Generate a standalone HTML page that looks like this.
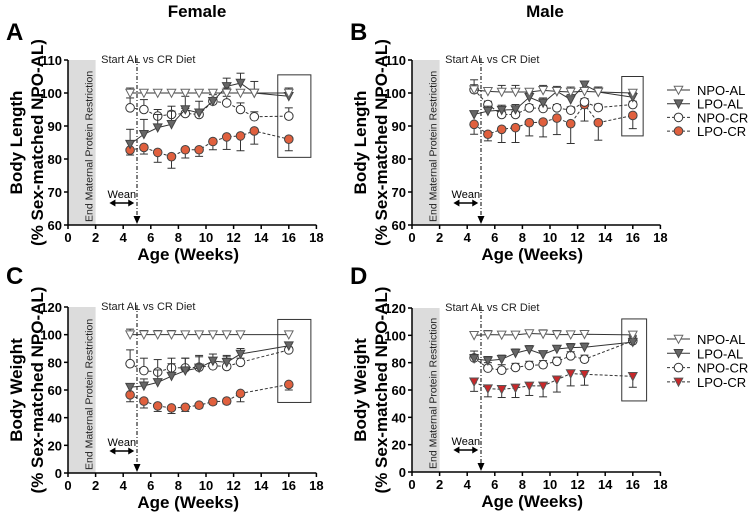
<!DOCTYPE html>
<html><head><meta charset="utf-8"><style>
body{margin:0;background:#fff}
svg{display:block;font-family:"Liberation Sans",Arial,sans-serif}
</style></head><body>
<svg id="fig" width="750" height="519" viewBox="0 0 750 519">
<text x="197" y="17" font-size="17" font-weight="bold" text-anchor="middle">Female</text>
<text x="545" y="17" font-size="17" font-weight="bold" text-anchor="middle">Male</text>
</svg>
<script>
const weeksA = [4.5,5.5,6.5,7.5,8.5,9.5,10.5,11.5,12.5,13.5,16];
const weeksC = [4.5,5.5,6.5,7.5,8.5,9.5,10.5,11.5,12.5,16];
const seriesNames = ["NPO-AL","LPO-AL","NPO-CR","LPO-CR"];
const xTicks = [0,2,4,6,8,10,12,14,16,18];
const yTicksLength = [60,70,80,90,100,110];
const yTicksWeight = [0,20,40,60,80,100,120];

const A_npoAL = [100,100,100,100,100,100,100,100,100,100,100];
const A_lpoAL = [84.5,87.5,89.5,90.5,95,94,97.5,102,103,100,99];
const A_npoCR = [95.5,95,93,93.5,93.8,93.5,97.5,97,95,92.8,93];
const A_lpoCR = [82.7,83.5,82,80.7,82.8,82.8,85.3,86.7,87,88.5,86];
const A_errAL = [1.5,1,1,1,1,1,1,1.5,1,1,1.5];
const A_errLAL = [4.5,4.5,4,4,4,3.5,2.5,2.5,3,3.5,2.5];
const A_errNCR = [3,3,2,2.5,1.5,1.5,2,2,2,1.5,2.5];
const A_errLCR = [1.5,2,3,3.5,2.5,2,2.5,3.8,4.5,4,3.5];

const B_npoAL = [101,100.5,100.3,100.3,100.3,100.8,100.5,100.3,100.5,100.3,100];
const B_lpoAL = [93.5,94.5,94.8,95,98.7,97,100.5,98,102.5,100.3,98.7];
const B_npoCR = [101,96.5,93.5,93.5,95.5,95.3,95.5,94.8,97.3,95.6,96.5];
const B_lpoCR = [90.5,87.5,89,89.5,91,91.2,92.4,90.7,96.5,91,93.2];
const B_errAL = [1.5,1,2,2,1,1.5,1,1.5,1,1.5,1];
const B_errLAL = [1,1.5,1.5,1.5,1.5,1.5,1.5,1.5,1,1.5,1.5];
const B_errNCR = [3,1,1,1,1,1,1,1,1,1,1];
const B_errLCR = [3,2,4,4.5,4,4.5,5,6,5,5.3,4];

const C_npoAL = [100,100,100,100,100,100,100,100,100,100];
const C_lpoAL = [62,63,65.5,70,74,76,81,80,86,92];
const C_npoCR = [79,74,73,76,76,76.5,77.5,77,80,89];
const C_lpoCR = [56.5,52,48.5,47,47.5,49,51.5,52,57.5,64];
const C_errAL = [4,3,3,3,2,1.5,2,2,2,2];
const C_errLAL = [2,5,9,9,9,8,5,5,4,2];
const C_errNCR = [10,9,9,7,7,8.5,6,7,3,2];
const C_errLCR = [5,5,4,4,3,2,2,2,6,4];

const D_npoAL = [100,100.5,100.3,100.3,101.3,101,100.5,100.5,100.8,100.3];
const D_lpoAL = [83,81.5,82.5,87,89.5,86,90,91,91.3,95];
const D_npoCR = [83.5,76,74.5,76.5,78,78.5,81,85,82.5,96];
const D_lpoCR = [66,61,60.5,61.5,63,63,67.5,72,71.5,70];
const D_errAL = [2,3,2,2,2,3,3,2,2,2];
const D_errLAL = [3,3,3,3,3,2,2,3,3,5];
const D_errNCR = [5,4,4,3,3,3,3,3,3,3];
const D_errLCR = [7,6,6,7,7,8,9,9,8,8];

const NS="http://www.w3.org/2000/svg";
const svg=document.getElementById('fig');
function el(tag,attrs,parent,text){const e=document.createElementNS(NS,tag);for(const k in attrs)e.setAttribute(k,attrs[k]);if(text!==undefined)e.textContent=text;(parent||svg).appendChild(e);return e;}

const panels=[
 {id:"a",letter:"A",lx:6,ly:40,x0:68,y0:60,y1:225,ymin:60,ymax:110,yt:yTicksLength,title:"Body Length",weeks:weeksA,
  data:[A_npoAL,A_lpoAL,A_npoCR,A_lpoCR],errs:[A_errAL,A_errLAL,A_errNCR,A_errLCR],dirs:[1,1,1,-1],box:[15.2,17.6,105.5,80.5],redTri:false,legend:false},
 {id:"b",letter:"B",lx:350,ly:40,x0:412,y0:60,y1:225,ymin:60,ymax:110,yt:yTicksLength,title:"Body Length",weeks:weeksA,
  data:[B_npoAL,B_lpoAL,B_npoCR,B_lpoCR],errs:[B_errAL,B_errLAL,B_errNCR,B_errLCR],dirs:[1,1,1,-1],box:[15.2,16.75,105,87],redTri:false,legend:true,ly0:90,lsp:13.7},
 {id:"c",letter:"C",lx:6,ly:284,x0:68,y0:307,y1:473,ymin:0,ymax:120,yt:yTicksWeight,title:"Body Weight",weeks:weeksC,
  data:[C_npoAL,C_lpoAL,C_npoCR,C_lpoCR],errs:[C_errAL,C_errLAL,C_errNCR,C_errLCR],dirs:[1,1,1,-1],box:[15.2,17.6,111,51],redTri:false,legend:false},
 {id:"d",letter:"D",lx:350,ly:284,x0:412,y0:308,y1:472,ymin:0,ymax:120,yt:yTicksWeight,title:"Body Weight",weeks:weeksC,
  data:[D_npoAL,D_lpoAL,D_npoCR,D_lpoCR],errs:[D_errAL,D_errLAL,D_errNCR,D_errLCR],dirs:[1,1,1,-1],box:[15.2,17.0,112,52],redTri:true,legend:true,ly0:339,lsp:14.3}
];
const PXW=13.8;

function tri(g,cx,cy,fill,stroke){return el('polygon',{points:`${cx-4.3},${cy-3.8} ${cx+4.3},${cy-3.8} ${cx},${cy+4.3}`,fill:fill,stroke:stroke,'stroke-width':1},g);}
function marker(g,k,cx,cy,redTri){
 if(k===0)return tri(g,cx,cy,'#fff','#666');
 if(k===1)return tri(g,cx,cy,'#666','#444');
 if(k===2)return el('circle',{cx:cx,cy:cy,r:4.3,fill:'#fff',stroke:'#333','stroke-width':1},g);
 if(redTri)return tri(g,cx,cy,'#c8282a','#555');
 return el('circle',{cx:cx,cy:cy,r:4.3,fill:'#e0603e',stroke:'#444','stroke-width':1},g);
}

panels.forEach(p=>{
 const g=el('g',{});
 
 
 const X=v=>p.x0+v*PXW;
 const Y=v=>p.y1-(v-p.ymin)/(p.ymax-p.ymin)*(p.y1-p.y0);
 const t=el('text',{x:p.lx,y:p.ly,'font-size':24,'font-weight':'bold'},g,p.letter);
 
 
 const r=el('rect',{x:X(0),y:p.y0,width:X(2)-X(0),height:p.y1-p.y0,fill:'#dcdcdc'},g);
 
 
 const rt=el('text',{transform:`translate(${X(2)-3},${p.y1-3}) rotate(-90)`,'font-size':10.5,fill:'#222'},g,'End Maternal Protein Restriction');
 
 
 el('line',{x1:X(0),y1:p.y0,x2:X(0),y2:p.y1,stroke:'#000','stroke-width':1.5},g);
 el('line',{x1:X(0),y1:p.y1,x2:X(18),y2:p.y1,stroke:'#000','stroke-width':1.5},g);
 xTicks.forEach(v=>{
  el('line',{x1:X(v),y1:p.y1,x2:X(v),y2:p.y1+4,stroke:'#000','stroke-width':1.5},g);
  const tt=el('text',{x:X(v),y:p.y1+17,'font-size':13,'font-weight':'bold','text-anchor':'middle'},g,String(v));
  
  
 });
 p.yt.forEach(v=>{
  el('line',{x1:X(0)-4,y1:Y(v),x2:X(0),y2:Y(v),stroke:'#000','stroke-width':1.5},g);
  const tt=el('text',{x:X(0)-6,y:Y(v)+5,'font-size':13,'font-weight':'bold','text-anchor':'end'},g,String(v));
  
  
 });
 const xt=el('text',{x:X(9)-4,y:p.y1+35,'font-size':17,'font-weight':'bold','text-anchor':'middle'},g,'Age (Weeks)');
 
 
 const cy=(p.y0+p.y1)/2;
 const ax=p.x0-46;
 const yt1=el('text',{transform:`translate(${ax},${cy}) rotate(-90)`,'font-size':17,'font-weight':'bold','text-anchor':'middle'},g,p.title);
 
 
 const yt2=el('text',{transform:`translate(${ax+21},${cy}) rotate(-90)`,'font-size':17,'font-weight':'bold','text-anchor':'middle'},g,'(% Sex-matched NPO-AL)');
 
 
 el('line',{x1:X(5),y1:p.y0-2,x2:X(5),y2:p.y1-8,stroke:'#000','stroke-width':1,'stroke-dasharray':'4,2,1,2'},g);
 el('polygon',{points:`${X(5)-3.5},${p.y1-9} ${X(5)+3.5},${p.y1-9} ${X(5)},${p.y1-1}`,fill:'#000'},g);
 const st=el('text',{x:X(2.4),y:p.y0+3,'font-size':11,fill:'#222'},g,'Start AL vs CR Diet');
 
 
 const wy=p.y1-22;
 el('line',{x1:X(3)+4,y1:wy,x2:X(4.8)-4,y2:wy,stroke:'#000','stroke-width':1.5},g);
 el('polygon',{points:`${X(3)},${wy} ${X(3)+6},${wy-3.5} ${X(3)+6},${wy+3.5}`,fill:'#000'},g);
 el('polygon',{points:`${X(4.8)},${wy} ${X(4.8)-6},${wy-3.5} ${X(4.8)-6},${wy+3.5}`,fill:'#000'},g);
 const wt=el('text',{x:X(3.9),y:wy-5,'font-size':11,'text-anchor':'middle'},g,'Wean');
 
 
 const bx=el('rect',{x:X(p.box[0]),y:Y(p.box[2]),width:X(p.box[1])-X(p.box[0]),height:Y(p.box[3])-Y(p.box[2]),fill:'none',stroke:'#333','stroke-width':1},g);
 
 
 [3,2,1,0].forEach(k=>{
  const vals=p.data[k], errs=p.errs[k], d=p.dirs[k];
  const sg=el('g',{},g);
  
  
  const pts=vals.map((v,i)=>X(p.weeks[i])+','+Y(v)).join(' ');
  el('polyline',{points:pts,fill:'none',stroke:'#333','stroke-width':1,'stroke-dasharray':k<2?'none':'3,2'},sg);
  vals.forEach((v,i)=>{
   const x=X(p.weeks[i]), y=Y(v), ye=Y(v+d*errs[i]);
   el('line',{x1:x,y1:y,x2:x,y2:ye,stroke:'#333','stroke-width':1},sg);
   el('line',{x1:x-4,y1:ye,x2:x+4,y2:ye,stroke:'#333','stroke-width':1},sg);
  });
  vals.forEach((v,i)=>{
   const m=marker(sg,k,X(p.weeks[i]),Y(v),p.redTri);
   
   
  });
 });
 if(p.legend){
  seriesNames.forEach((n,k)=>{
   const lg=el('g',{},g);
   
   
   const y=p.ly0+k*p.lsp;
   el('line',{x1:667,y1:y,x2:690,y2:y,stroke:'#333','stroke-width':1,'stroke-dasharray':k<2?'none':'3,2'},lg);
   marker(lg,k,678.5,y,p.redTri);
   el('text',{x:697,y:y+5,'font-size':13},lg,n);
  });
 }
});
</script>
</body></html>
